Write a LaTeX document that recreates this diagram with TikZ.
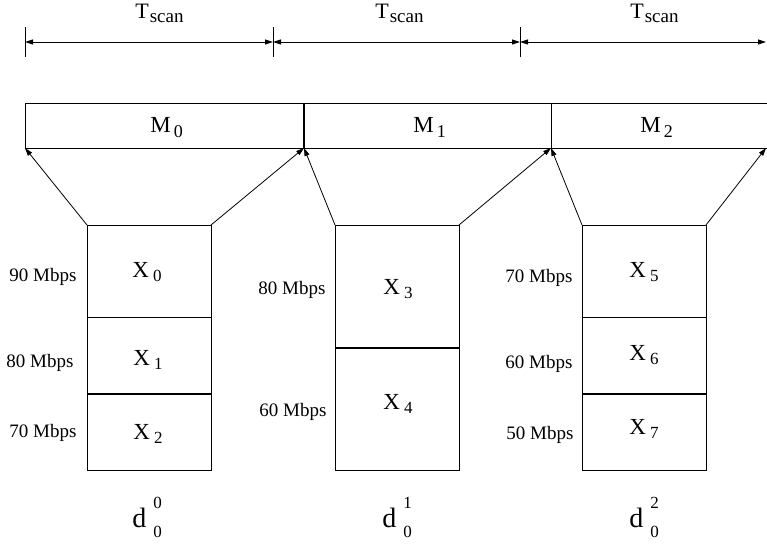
\documentclass[tikz,border=0pt]{standalone}
\usepackage{fontspec}
\setmainfont{Liberation Serif}
\usetikzlibrary{arrows.meta}
\newcommand{\myfs}[1]{\fontsize{#1}{#1}\selectfont}
\newcommand{\Xlab}[1]{{\myfs{23}X}\hspace{4pt}\raisebox{-4pt}{\myfs{17}#1}}
\newcommand{\Mlab}[1]{{\myfs{23}M}\hspace{3pt}\raisebox{-5pt}{\myfs{18}#1}}
\newcommand{\Tlab}{{\myfs{22}T}\hspace{1pt}\raisebox{-4pt}{\myfs{19}scan}}
\newcommand{\Dlab}[1]{{\myfs{28}d}\hspace{7pt}\rlap{\raisebox{19pt}{\myfs{17}#1}}\raisebox{-10pt}{\myfs{17}0}}
\begin{document}
\begin{tikzpicture}[x=1pt,y=-1pt,line width=0.8pt,
  box/.style={draw,minimum width=124pt,inner sep=0pt,outer sep=0pt},
  mbox/.style={draw,minimum height=45pt,inner sep=0pt,outer sep=0pt},
  lab/.style={anchor=base west,inner sep=0pt},
  rate/.style={anchor=base west,inner sep=0pt,font=\myfs{19}},
  arr/.style={-{Triangle[length=8pt,width=5pt]}},
  dim/.style={{Triangle[length=8pt,width=5pt]}-{Triangle[length=8pt,width=5pt]}}]
\useasboundingbox (0,0) rectangle (767,544);
\clip (0,0) rectangle (767,544);

% time axis
\coordinate (t0) at (25,42);
\coordinate (t1) at (273,42);
\coordinate (t2) at (520,42);
\coordinate (t3) at (766,42);
\foreach \t in {t0,t1,t2} \draw ([yshift=-15pt]\t) -- ([yshift=15pt]\t);
\draw[dim] (t0) -- (t1);
\draw[dim] (t1) -- (t2);
\draw[dim] (t2) -- (t3);
\node[lab] (ts0) at (135,18) {\Tlab};
\node[lab] (ts1) at (375,18) {\Tlab};
\node[lab] (ts2) at (630,18) {\Tlab};

% M boxes
\node[mbox,minimum width=279pt] (m0) at (164.5,125.5) {};
\node[mbox,minimum width=247pt] (m1) at (427.5,125.5) {};
\node[mbox,minimum width=221pt] (m2) at (661.5,125.5) {};
\draw[line width=1.4pt] (m0.north east) -- (m0.south east);
\coordinate (m2se) at (766,148);
\node[lab] (lm0) at (150,132) {\Mlab{0}};
\node[lab] (lm1) at (413,132) {\Mlab{1}};
\node[lab] (lm2) at (640,132) {\Mlab{2}};

% column 0
\node[box,minimum height=92pt] (s0) at (149,271) {};
\node[box,minimum height=77pt] (s1) at (149,355.5) {};
\node[box,minimum height=76pt] (s2) at (149,432) {};
\draw[line width=1.4pt] (s2.north west) -- (s2.north east);
% column 1
\node[box,minimum height=123pt] (s3) at (397,286.5) {};
\node[box,minimum height=122pt] (s4) at (397,409) {};
\draw[line width=1.4pt] (s4.north west) -- (s4.north east);
% column 2
\node[box,minimum height=92pt] (s5) at (644,271) {};
\node[box,minimum height=77pt] (s6) at (644,355.5) {};
\node[box,minimum height=76pt] (s7) at (644,432) {};
\draw[line width=1.4pt] (s7.north west) -- (s7.north east);

% funnels
\draw[arr] (s0.north west) -- (m0.south west);
\draw[arr] (s0.north east) -- (m0.south east);
\draw[arr] (s3.north west) -- (m1.south west);
\draw[arr] (s3.north east) -- (m1.south east);
\draw[arr] (s5.north west) -- (m2.south west);
\draw[arr] (s5.north east) -- (m2se);

% X labels
\node[lab] (x0) at (132,277) {\Xlab{0}};
\node[lab] (x1) at (133,365) {\Xlab{1}};
\node[lab] (x2) at (133,439) {\Xlab{2}};
\node[lab] (x3) at (383,294) {\Xlab{3}};
\node[lab] (x4) at (383,409) {\Xlab{4}};
\node[lab] (x5) at (629,277) {\Xlab{5}};
\node[lab] (x6) at (629,360) {\Xlab{6}};
\node[lab] (x7) at (629,434) {\Xlab{7}};

% rates
\node[rate] (r0) at (9,281) {90 Mbps};
\node[rate] (r1) at (6,367) {80 Mbps};
\node[rate] (r2) at (9,437) {70 Mbps};
\node[rate] (r3) at (258,294) {80 Mbps};
\node[rate] (r4) at (259,416) {60 Mbps};
\node[rate] (r5) at (505,282) {70 Mbps};
\node[rate] (r6) at (505,368) {60 Mbps};
\node[rate] (r7) at (506,439) {50 Mbps};

% d labels
\node[lab] (d0) at (132,527) {\Dlab{0}};
\node[lab] (d1) at (382,527) {\Dlab{1}};
\node[lab] (d2) at (629,527) {\Dlab{2}};
\end{tikzpicture}
\end{document}
